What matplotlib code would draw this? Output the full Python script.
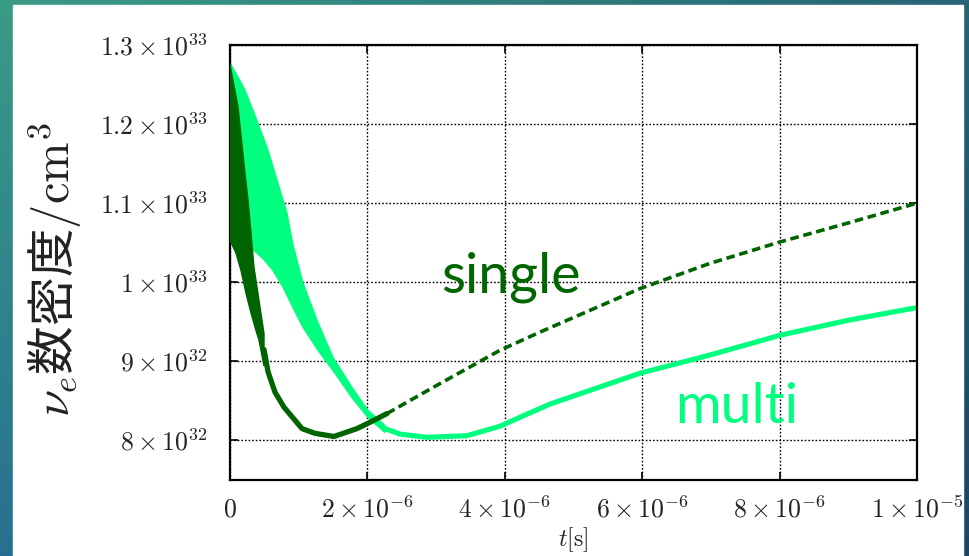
import numpy as np
import matplotlib.pyplot as plt
from matplotlib.patches import Rectangle

plt.rcParams['mathtext.fontset'] = 'cm'

# time in microseconds, density in units of 1e32 / cm^3
# multi: oscillating band at early times (upper / lower envelopes)
multi_hi_t = [0.0, 0.10, 0.218, 0.408, 0.553, 0.699, 0.830, 0.917, 1.063, 1.266, 1.499, 1.776, 2.009, 2.256]
multi_hi = [12.77, 12.62, 12.43, 12.01, 11.67, 11.25, 10.87, 10.47, 9.99, 9.52, 9.05, 8.67, 8.38, 8.19]
multi_lo_t = [0.0, 0.335, 0.480, 0.626, 0.771, 0.917, 1.063, 1.281, 1.528, 1.776, 2.009, 2.256]
multi_lo = [10.53, 10.41, 10.30, 10.15, 9.94, 9.68, 9.43, 9.14, 8.85, 8.54, 8.29, 8.10]
# multi: after the oscillation has died out
multi_t = [2.256, 2.475, 2.868, 3.450, 3.930, 4.29, 4.658, 5.968, 6.987, 8.006, 9.0, 10.0]
multi_n = [8.15, 8.08, 8.04, 8.06, 8.18, 8.32, 8.46, 8.85, 9.08, 9.33, 9.52, 9.68]

# single: band, then solid part, then dashed part
single_hi_t = [0.0, 0.116, 0.218, 0.262, 0.306, 0.349, 0.422, 0.495]
single_hi = [12.75, 12.22, 11.38, 11.04, 10.62, 10.19, 9.77, 9.35]
single_lo_t = [0.0, 0.087, 0.160, 0.233, 0.306, 0.378, 0.422, 0.495]
single_lo = [10.53, 10.37, 10.15, 9.86, 9.61, 9.39, 9.27, 8.94]
single_t = [0.495, 0.553, 0.655, 0.786, 1.048, 1.237, 1.514, 1.849, 2.038, 2.285]
single_n = [9.15, 8.87, 8.61, 8.42, 8.15, 8.09, 8.05, 8.15, 8.23, 8.34]
single_dash_t = [2.285, 2.955, 3.930, 4.512, 5.968, 6.99, 8.006, 9.0, 10.0]
single_dash_n = [8.34, 8.67, 9.14, 9.37, 9.92, 10.24, 10.51, 10.75, 11.0]

xticks = [0, 2e-6, 4e-6, 6e-6, 8e-6, 1e-5]
xlabels = ['$0$', r'$2\times10^{-6}$', r'$4\times10^{-6}$', r'$6\times10^{-6}$',
           r'$8\times10^{-6}$', r'$1\times10^{-5}$']
yticks = [8e32, 9e32, 1e33, 1.1e33, 1.2e33, 1.3e33]
ylabels = [r'$8\times10^{32}$', r'$9\times10^{32}$', r'$1\times10^{33}$',
           r'$1.1\times10^{33}$', r'$1.2\times10^{33}$', r'$1.3\times10^{33}$']

dark = '#006400'
light = '#00ff7f'

fig = plt.figure(figsize=(9.69, 5.56), dpi=100)

# slide background: teal gradient with a white panel
bg = fig.add_axes([0, 0, 1, 1])
u = np.linspace(0, 1, 200)
v = np.linspace(0, 1, 120)
U, V = np.meshgrid(u, v)
tl = np.array([58, 155, 134]) / 255
tr = np.array([38, 100, 118]) / 255
bl = np.array([40, 112, 145]) / 255
br = np.array([24, 70, 104]) / 255
img = ((1 - U)[..., None] * (1 - V)[..., None] * tl + U[..., None] * (1 - V)[..., None] * tr
       + (1 - U)[..., None] * V[..., None] * bl + U[..., None] * V[..., None] * br)
bg.imshow(img, extent=[0, 1, 0, 1], aspect='auto', origin='upper')
bg.add_patch(Rectangle((13 / 969, 0), 950 / 969, 551 / 556, color='white'))
bg.set_xlim(0, 1)
bg.set_ylim(0, 1)
bg.axis('off')

ax = fig.add_axes([230 / 969, 76 / 556, 687 / 969, 435 / 556])

us = 1e-6
e32 = 1e32

# multi
ax.fill(np.r_[multi_hi_t, multi_lo_t[::-1]] * us,
        np.r_[multi_hi, multi_lo[::-1]] * e32,
        color=light, lw=1, zorder=2)
ax.plot(np.array(multi_t) * us, np.array(multi_n) * e32, color=light, lw=3.7,
        solid_capstyle='round', solid_joinstyle='round', zorder=2)

# single
ax.fill(np.r_[single_hi_t, single_lo_t[::-1]] * us,
        np.r_[single_hi, single_lo[::-1]] * e32,
        color=dark, lw=1, zorder=3)
ax.plot(np.array(single_t) * us, np.array(single_n) * e32, color=dark, lw=3.8,
        solid_capstyle='round', solid_joinstyle='round', zorder=3)
ax.plot(np.array(single_dash_t) * us, np.array(single_dash_n) * e32, color=dark,
        lw=2.6, dashes=(2.4, 1.3), zorder=3)

ax.set_xlim(0, 1e-5)
ax.set_ylim(7.5e32, 1.3e33)
ax.set_xticks(xticks)
ax.set_xticklabels(xlabels)
ax.set_yticks(yticks)
ax.set_yticklabels(ylabels)
ax.tick_params(direction='in', length=6, width=1.2, top=True, right=True,
               labelsize=18.5, colors='black')
ax.tick_params(axis='y', pad=16)
ax.tick_params(axis='x', pad=12)
for lab in ax.get_xticklabels() + ax.get_yticklabels():
    lab.set_color('#222222')
ax.grid(True, color='black', linestyle=(0, (1.2, 1.4)), linewidth=1.0)
ax.set_axisbelow(True)
for s in ax.spines.values():
    s.set_linewidth(1.6)

ax.set_xlabel(r'$t[\mathrm{s}]$', fontsize=17, color='#222222')
ax.xaxis.set_label_coords(0.5, -0.105)
ax.set_ylabel(r'$\nu_e$数密度$/\mathrm{cm}^3$', fontsize=35, color='#222222',
              family=['Noto Sans CJK JP', 'DejaVu Sans'])
ax.yaxis.set_label_coords(-0.212, 0.484)

ax.text(0.307, 0.432, 'single', transform=ax.transAxes, fontsize=40,
        family='Lato', color='#006600', zorder=4)
ax.text(0.648, 0.131, 'multi', transform=ax.transAxes, fontsize=40,
        family='Lato', color='#00ff80', zorder=4)

fig.savefig('out.png', dpi=100)
